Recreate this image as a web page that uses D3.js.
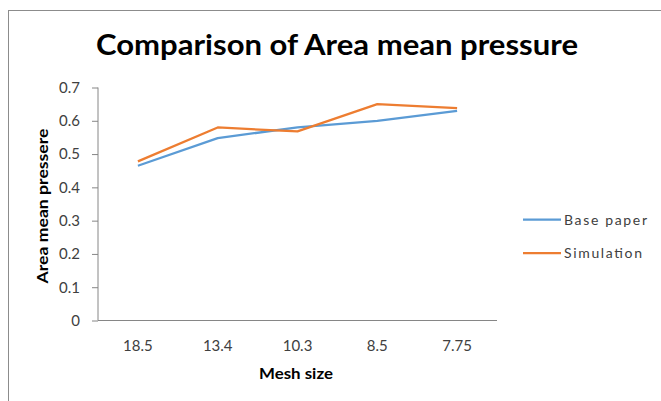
<!DOCTYPE html>
<html>
<head>
<meta charset="utf-8">
<title>Comparison of Area mean pressure</title>
<script src="https://cdnjs.cloudflare.com/ajax/libs/d3/7.8.5/d3.min.js"></script>
<style>
  body { margin: 0; background: #fff; }
  text { font-family: Lato, "Open Sans", sans-serif; }
</style>
</head>
<body>
<script>
var categories = ["18.5", "13.4", "10.3", "8.5", "7.75"];
var basePaper = [0.465, 0.548, 0.58, 0.6, 0.63];
var simulation = [0.478, 0.58, 0.568, 0.65, 0.638];
var yTicks = [0, 0.1, 0.2, 0.3, 0.4, 0.5, 0.6, 0.7];
var seriesNames = ["Base paper", "Simulation"];
var seriesColors = ["#5b9bd5", "#ed7d31"];

var width = 661, height = 401;
var svg = d3.select("body").append("svg")
    .attr("width", width)
    .attr("height", height);

svg.append("rect")
    .attr("width", width).attr("height", height)
    .attr("fill", "#fff");

// chart frame (runs off the right and bottom edges)
svg.append("rect")
    .attr("x", 8.5).attr("y", 10.5)
    .attr("width", 700).attr("height", 450)
    .attr("fill", "none")
    .attr("stroke", "#8c8c8c")
    .attr("stroke-width", 1);

var plotLeft = 98, plotRight = 497, plotTop = 87.5, plotBottom = 320.5;

var x = d3.scaleBand().domain(categories).range([plotLeft, plotRight]);
var y = d3.scaleLinear().domain([0, 0.7]).range([plotBottom, plotTop]);

// title
svg.append("text")
    .attr("x", 96).attr("y", 55)
    .attr("font-size", 28)
    .attr("font-weight", "bold")
    .attr("fill", "#000")
    .attr("textLength", 482)
    .attr("lengthAdjust", "spacingAndGlyphs")
    .text("Comparison of Area mean pressure");

// y axis
var yAxis = svg.append("g")
    .attr("transform", "translate(" + plotLeft + ",0)")
    .call(d3.axisLeft(y).tickValues(yTicks).tickSize(6).tickPadding(12)
        .tickFormat(function(d){ return d === 0 ? "0" : d3.format(".1f")(d); }));
yAxis.select(".domain").attr("stroke", "#868686").attr("d", "M0," + plotTop + "V" + plotBottom);
yAxis.selectAll(".tick line").attr("stroke", "#868686");
yAxis.selectAll(".tick text")
    .attr("fill", "#404040")
    .attr("font-size", 15)
    .style("font-family", "Lato, sans-serif");

// x axis
var xAxis = svg.append("g")
    .attr("transform", "translate(0," + plotBottom + ")")
    .call(d3.axisBottom(x).tickSize(0).tickPadding(20));
xAxis.select(".domain").attr("stroke", "#868686").attr("d", "M" + plotLeft + ",0H" + plotRight);
xAxis.selectAll(".tick text")
    .attr("fill", "#404040")
    .attr("font-size", 15)
    .style("font-family", "Lato, sans-serif");

// axis titles
svg.append("text")
    .attr("transform", "translate(48,206) rotate(-90)")
    .attr("text-anchor", "middle")
    .attr("font-size", 15)
    .attr("font-weight", "bold")
    .attr("fill", "#000")
    .attr("textLength", 155)
    .attr("lengthAdjust", "spacingAndGlyphs")
    .text("Area mean pressere");

svg.append("text")
    .attr("x", 296).attr("y", 379)
    .attr("text-anchor", "middle")
    .attr("font-size", 15)
    .attr("font-weight", "bold")
    .attr("fill", "#000")
    .attr("textLength", 74)
    .attr("lengthAdjust", "spacingAndGlyphs")
    .text("Mesh size");

// lines
var line = d3.line()
    .x(function(d, i){ return x(categories[i]) + x.bandwidth() / 2; })
    .y(function(d){ return y(d); });

[basePaper, simulation].forEach(function(s, k){
    svg.append("path")
        .datum(s)
        .attr("fill", "none")
        .attr("stroke", seriesColors[k])
        .attr("stroke-width", 2.25)
        .attr("stroke-linejoin", "round")
        .attr("d", line);
});

// legend
var legend = svg.append("g");
var legendWidths = [83, 78];
seriesNames.forEach(function(name, k){
    var ly = 219.5 + k * 33.5;
    legend.append("line")
        .attr("x1", 523).attr("x2", 561)
        .attr("y1", ly).attr("y2", ly)
        .attr("stroke", seriesColors[k])
        .attr("stroke-width", 2.25);
    legend.append("text")
        .attr("x", 564).attr("y", ly + 5)
        .attr("font-size", 14)
        .attr("textLength", legendWidths[k])
        .attr("lengthAdjust", "spacing")
        .attr("fill", "#404040")
        .text(name);
});
</script>
</body>
</html>
